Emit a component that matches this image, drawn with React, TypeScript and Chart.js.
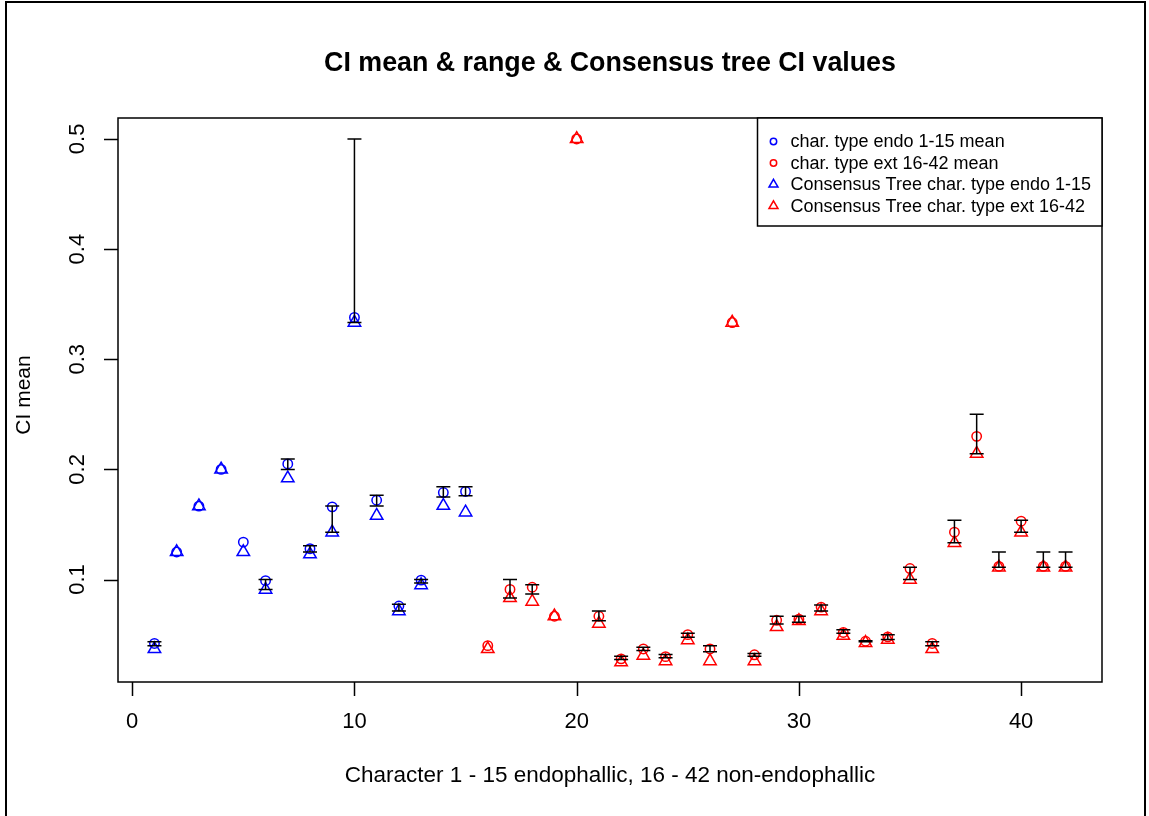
import { useEffect, useRef } from "react";
import { Chart, registerables } from "chart.js";

Chart.register(...registerables);

// Character numbers (1-15 endophallic, 16-42 non-endophallic)
const characters = [
  1, 2, 3, 4, 5, 6, 7, 8, 9, 10, 11, 12, 13, 14, 15,
  16, 17, 18, 19, 20, 21, 22, 23, 24, 25, 26, 27, 28, 29, 30,
  31, 32, 33, 34, 35, 36, 37, 38, 39, 40, 41, 42,
];

// CI mean per character
const meanCI = [
  0.042, 0.125, 0.1667, 0.2, 0.134, 0.099, 0.205, 0.128, 0.166, 0.338, 0.172, 0.076, 0.0995, 0.179, 0.18,
  0.04, 0.091, 0.093, 0.0667, 0.5, 0.0667, 0.028, 0.037, 0.03, 0.05, 0.037, 0.3333, 0.0317, 0.063, 0.064,
  0.075, 0.052, 0.044, 0.048, 0.11, 0.042, 0.143, 0.23, 0.112, 0.153, 0.112, 0.112,
];

// CI range minimum per character
const minCI = [
  0.04, 0.125, 0.1667, 0.2, 0.134, 0.0909, 0.2, 0.125, 0.1429, 0.3333, 0.1667, 0.0714, 0.0968, 0.175, 0.176,
  0.04, 0.0833, 0.087, 0.0667, 0.5, 0.0625, 0.0275, 0.0357, 0.029, 0.0476, 0.0345, 0.3333, 0.0303, 0.0597, 0.0612,
  0.0714, 0.0513, 0.0435, 0.0455, 0.1, 0.04, 0.1333, 0.2143, 0.1111, 0.1429, 0.1111, 0.1111,
];

// CI range maximum per character
const maxCI = [
  0.0435, 0.125, 0.1667, 0.2, 0.134, 0.1, 0.2094, 0.1306, 0.1667, 0.5, 0.1765, 0.0776, 0.1, 0.1842, 0.1842,
  0.04, 0.1, 0.0952, 0.0667, 0.5, 0.0714, 0.0303, 0.0385, 0.032, 0.0513, 0.04, 0.3333, 0.0328, 0.0667, 0.0667,
  0.0769, 0.0545, 0.0444, 0.05, 0.1111, 0.0435, 0.1538, 0.25, 0.125, 0.1538, 0.125, 0.125,
];

// Consensus tree CI per character
const consensusCI = [
  0.037, 0.125, 0.1667, 0.2, 0.125, 0.0909, 0.192, 0.123, 0.1429, 0.3333, 0.158, 0.0714, 0.095, 0.167, 0.161,
  0.037, 0.0833, 0.08, 0.0667, 0.5, 0.06, 0.025, 0.031, 0.026, 0.045, 0.026, 0.3333, 0.026, 0.057, 0.0625,
  0.0714, 0.049, 0.0426, 0.0455, 0.1, 0.037, 0.1333, 0.2143, 0.1111, 0.1429, 0.1111, 0.1111,
];

const endoLast = 15;

const xTicks = [0, 10, 20, 30, 40];
const yTicks = [0.1, 0.2, 0.3, 0.4, 0.5];
const yTickLabels = ["0.1", "0.2", "0.3", "0.4", "0.5"];

const titleText = "CI mean & range & Consensus tree CI values";
const xTitle = "Character 1 - 15 endophallic, 16 - 42 non-endophallic";
const yTitle = "CI mean";

const legendLabels = [
  "char. type endo 1-15 mean",
  "char. type ext 16-42 mean",
  "Consensus Tree char. type endo 1-15",
  "Consensus Tree char. type ext 16-42",
];

const BLUE = "#0000ff";
const RED = "#ff0000";
const FONT = '"Liberation Sans", Arial, Helvetica, sans-serif';

function pts(vals: number[], from: number, to: number) {
  const out: { x: number; y: number }[] = [];
  for (let i = 0; i < characters.length; i++) {
    const c = characters[i];
    if (c >= from && c <= to) out.push({ x: c, y: vals[i] });
  }
  return out;
}

const decorPlugin = {
  id: "rDecor",
  beforeDraw(chart: any) {
    const ctx = chart.ctx;
    ctx.save();
    ctx.fillStyle = "#ffffff";
    ctx.fillRect(0, 0, chart.width, chart.height);
    ctx.restore();
  },
  afterDatasetsDraw(chart: any) {
    const ctx = chart.ctx;
    const xs = chart.scales.x;
    const ys = chart.scales.y;
    ctx.save();
    ctx.strokeStyle = "#000000";
    ctx.lineWidth = 1.5;
    for (let i = 0; i < characters.length; i++) {
      if (maxCI[i] - minCI[i] < 1e-6) continue;
      const px = xs.getPixelForValue(characters[i]);
      const y1 = ys.getPixelForValue(minCI[i]);
      const y2 = ys.getPixelForValue(maxCI[i]);
      ctx.beginPath();
      ctx.moveTo(px, y1);
      ctx.lineTo(px, y2);
      ctx.moveTo(px - 7, y1);
      ctx.lineTo(px + 7, y1);
      ctx.moveTo(px - 7, y2);
      ctx.lineTo(px + 7, y2);
      ctx.stroke();
    }
    ctx.restore();
  },
  afterDraw(chart: any) {
    const ctx = chart.ctx;
    const area = chart.chartArea;
    const xs = chart.scales.x;
    const ys = chart.scales.y;
    ctx.save();
    ctx.strokeStyle = "#000000";
    ctx.fillStyle = "#000000";

    // outer frame
    ctx.lineWidth = 2;
    ctx.beginPath();
    ctx.moveTo(6, 830);
    ctx.lineTo(6, 2);
    ctx.lineTo(1145, 2);
    ctx.lineTo(1145, 830);
    ctx.stroke();

    // plot box
    ctx.lineWidth = 1.5;
    ctx.strokeRect(area.left, area.top, area.right - area.left, area.bottom - area.top);

    // ticks
    ctx.beginPath();
    for (const t of xTicks) {
      const px = Math.round(xs.getPixelForValue(t)) + 0.5;
      ctx.moveTo(px, area.bottom);
      ctx.lineTo(px, area.bottom + 14);
    }
    for (const t of yTicks) {
      const py = Math.round(ys.getPixelForValue(t)) + 0.5;
      ctx.moveTo(area.left, py);
      ctx.lineTo(area.left - 14, py);
    }
    ctx.stroke();

    // tick labels
    ctx.font = `22px ${FONT}`;
    ctx.textAlign = "center";
    ctx.textBaseline = "middle";
    for (const t of xTicks) {
      ctx.fillText(String(t), xs.getPixelForValue(t), 722);
    }
    yTicks.forEach((t, i) => {
      ctx.save();
      ctx.translate(78, ys.getPixelForValue(t));
      ctx.rotate(-Math.PI / 2);
      ctx.fillText(yTickLabels[i], 0, 0);
      ctx.restore();
    });

    // axis titles
    const cx = (area.left + area.right) / 2;
    const cy = (area.top + area.bottom) / 2;
    ctx.font = `22.5px ${FONT}`;
    ctx.fillText(xTitle, cx, 776);
    ctx.font = `21px ${FONT}`;
    ctx.save();
    ctx.translate(24, cy - 5);
    ctx.rotate(-Math.PI / 2);
    ctx.fillText(yTitle, 0, 0);
    ctx.restore();

    // main title
    ctx.font = `bold 26.8px ${FONT}`;
    ctx.fillText(titleText, cx, 64);

    // legend
    const lx = 757.5;
    const ly = area.top;
    const lw = area.right - lx;
    const lh = 108;
    ctx.fillStyle = "#ffffff";
    ctx.fillRect(lx, ly, lw, lh);
    ctx.lineWidth = 1.5;
    ctx.strokeRect(lx, ly, lw, lh);
    const rows = [141.5, 163, 184.5, 206];
    const colors = [BLUE, RED, BLUE, RED];
    ctx.font = `18px ${FONT}`;
    ctx.textAlign = "left";
    ctx.textBaseline = "middle";
    for (let i = 0; i < 4; i++) {
      const sx = 773.5;
      const sy = rows[i];
      ctx.strokeStyle = colors[i];
      ctx.lineWidth = 1.5;
      ctx.beginPath();
      if (i < 2) {
        ctx.arc(sx, sy, 3.2, 0, Math.PI * 2);
      } else {
        const r = 5.2;
        ctx.moveTo(sx, sy - r);
        ctx.lineTo(sx + r * 0.866, sy + r / 2);
        ctx.lineTo(sx - r * 0.866, sy + r / 2);
        ctx.closePath();
      }
      ctx.stroke();
      ctx.fillStyle = "#000000";
      ctx.fillText(legendLabels[i], 790.5, sy + 1);
    }
    ctx.restore();
  },
};

export default function App() {
  const ref = useRef<HTMLCanvasElement | null>(null);

  useEffect(() => {
    if (!ref.current) return;
    const common = {
      showLine: false,
      backgroundColor: "rgba(0,0,0,0)",
      borderWidth: 1.5,
      pointBorderWidth: 1.5,
      pointHoverRadius: 0,
    };
    const chart = new Chart(ref.current, {
      type: "scatter",
      data: {
        datasets: [
          {
            ...common,
            label: legendLabels[2],
            data: pts(consensusCI, 1, endoLast),
            pointStyle: "triangle",
            pointRadius: 7.2,
            borderColor: BLUE,
            pointBorderColor: BLUE,
          },
          {
            ...common,
            label: legendLabels[3],
            data: pts(consensusCI, endoLast + 1, 42),
            pointStyle: "triangle",
            pointRadius: 7.2,
            borderColor: RED,
            pointBorderColor: RED,
          },
          {
            ...common,
            label: legendLabels[0],
            data: pts(meanCI, 1, endoLast),
            pointStyle: "circle",
            pointRadius: 4.7,
            borderColor: BLUE,
            pointBorderColor: BLUE,
          },
          {
            ...common,
            label: legendLabels[1],
            data: pts(meanCI, endoLast + 1, 42),
            pointStyle: "circle",
            pointRadius: 4.7,
            borderColor: RED,
            pointBorderColor: RED,
          },
        ],
      },
      options: {
        animation: false,
        responsive: false,
        devicePixelRatio: 1,
        events: [],
        layout: { padding: { left: 118, top: 118, right: 47, bottom: 134 } },
        plugins: {
          legend: { display: false },
          title: { display: false },
          tooltip: { enabled: false },
        },
        scales: {
          x: { type: "linear", min: -0.64, max: 43.64, display: false },
          y: { type: "linear", min: 0.007, max: 0.519, display: false },
        },
      },
      plugins: [decorPlugin],
    } as any);
    return () => chart.destroy();
  }, []);

  return (
    <canvas
      ref={ref}
      width={1149}
      height={816}
      style={{ position: "absolute", left: 0, top: 0, width: 1149, height: 816, display: "block" }}
    />
  );
}
